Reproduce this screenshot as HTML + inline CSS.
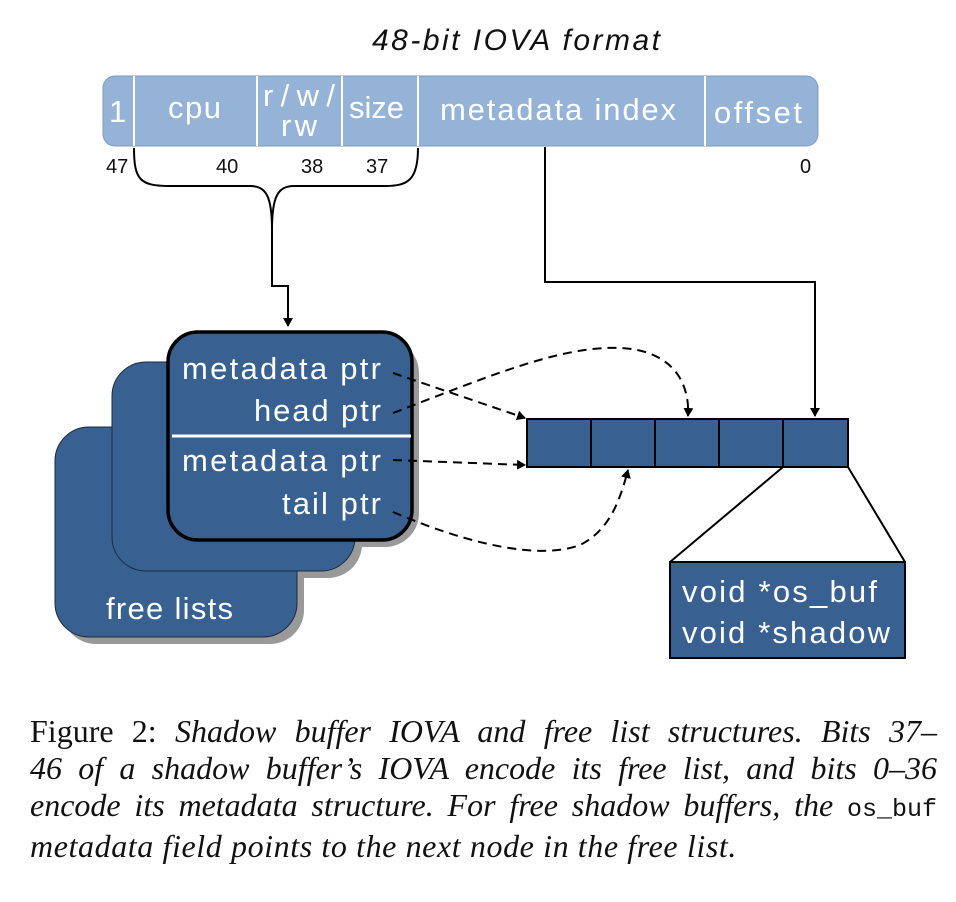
<!DOCTYPE html>
<html><head><style>
body{margin:0;background:#fff;width:956px;height:902px;overflow:hidden}
.cap{position:absolute;left:30px;top:713px;width:907px;font-family:"Liberation Serif",serif;font-size:32px;line-height:37px;color:#111}
.cap div{text-align:justify;text-align-last:justify;white-space:nowrap}
.cap div.l{text-align-last:left;letter-spacing:0.6px}
.cap i{font-style:italic}
</style></head><body>
<svg width="956" height="902" style="position:absolute;left:0;top:0" font-family="Liberation Sans, sans-serif">
<defs>
<marker id="a" markerWidth="10" markerHeight="10" refX="8" refY="5" orient="auto" markerUnits="userSpaceOnUse"><path d="M0,0 L9,5 L0,10 z" fill="#000"/></marker>
</defs>
<text x="372" y="50" font-size="30" font-style="italic" textLength="288" fill="#111">48-bit IOVA format</text>
<rect x="103" y="76" width="715" height="70" rx="12" fill="#95b3d7" stroke="#7f9bbf"/>
<g stroke="#fff" stroke-width="2"><line x1="134" y1="76" x2="134" y2="146"/><line x1="257" y1="76" x2="257" y2="146"/><line x1="342" y1="76" x2="342" y2="146"/><line x1="418" y1="76" x2="418" y2="146"/><line x1="705" y1="76" x2="705" y2="146"/></g>
<g fill="#fff" font-size="31">
<text x="109" y="122">1</text><text x="168" y="118" textLength="53">cpu</text>
<text x="263" y="106" textLength="72">r/w/</text><text x="281" y="136" textLength="36">rw</text>
<text x="349" y="118" textLength="55">size</text><text x="440" y="120" textLength="236">metadata index</text><text x="714" y="123" textLength="88">offset</text></g>
<g font-size="20" fill="#111"><text x="106" y="173">47</text><text x="216" y="173">40</text><text x="301" y="173">38</text><text x="366" y="173">37</text><text x="800" y="173">0</text></g>
<path d="M134,148 C134,180 140,186 170,186 L250,186 C266,186 272,196 272,230 C272,196 278,186 294,186 L385,186 C408,186 418,180 418,148" fill="none" stroke="#000" stroke-width="2"/>
<path d="M272,230 L272,286 L288,286 L288,326" fill="none" stroke="#000" stroke-width="2" marker-end="url(#a)"/>
<path d="M545,147 L545,282 L815,282 L815,416" fill="none" stroke="#000" stroke-width="2" marker-end="url(#a)"/>
<g fill="#999"><rect x="62" y="434" width="242" height="210" rx="34"/><rect x="119" y="369" width="243" height="209" rx="34"/><rect x="174" y="339" width="245" height="208" rx="34"/></g>
<rect x="55" y="427" width="242" height="210" rx="34" fill="#386192" stroke="#1a2a40"/>
<rect x="112" y="362" width="243" height="209" rx="34" fill="#386192" stroke="#1a2a40"/>
<rect x="168" y="332" width="244" height="208" rx="30" fill="#386192" stroke="#000" stroke-width="3.5"/>
<line x1="172" y1="436" x2="411" y2="436" stroke="#fff" stroke-width="3"/>
<g fill="#fff" font-size="31"><text x="182" y="379" textLength="199">metadata ptr</text><text x="254" y="421" textLength="127">head ptr</text><text x="182" y="471" textLength="199">metadata ptr</text><text x="282" y="514" textLength="99">tail ptr</text></g>
<text x="106" y="619" fill="#fff" font-size="31" textLength="127">free lists</text>
<g fill="none" stroke="#000" stroke-width="2" stroke-dasharray="9,6">
<path d="M393,373 L525,418" marker-end="url(#a)"/>
<path d="M393,413 C480,380 560,345 620,348 C670,350 690,380 688,416" marker-end="url(#a)"/>
<path d="M393,460 L525,465" marker-end="url(#a)"/>
<path d="M393,512 C470,545 540,560 580,545 C610,530 620,500 628,470" marker-end="url(#a)"/>
</g>
<g fill="#386192" stroke="#000" stroke-width="2"><rect x="527" y="419" width="64" height="48"/><rect x="591" y="419" width="64" height="48"/><rect x="655" y="419" width="64" height="48"/><rect x="719" y="419" width="64" height="48"/><rect x="783" y="419" width="65" height="48"/></g>
<line x1="783" y1="467" x2="670" y2="562" stroke="#000" stroke-width="2"/>
<line x1="848" y1="467" x2="905" y2="562" stroke="#000" stroke-width="2"/>
<rect x="670" y="562" width="235" height="96" fill="#386192" stroke="#000" stroke-width="2"/>
<g fill="#fff" font-size="31"><text x="682" y="602" textLength="195">void *os_buf</text><text x="682" y="643" textLength="208">void *shadow</text></g>
</svg>
<div class="cap">
<div>Figure 2: <i>Shadow buffer IOVA and free list structures. Bits 37–</i></div>
<div><i>46 of a shadow buffer’s IOVA encode its free list, and bits 0–36</i></div>
<div><i>encode its metadata structure. For free shadow buffers, the</i> <span style="font-family:'Liberation Mono',monospace;font-size:25px">os_buf</span></div>
<div class="l"><i>metadata field points to the next node in the free list.</i></div>
</div>
</body></html>
